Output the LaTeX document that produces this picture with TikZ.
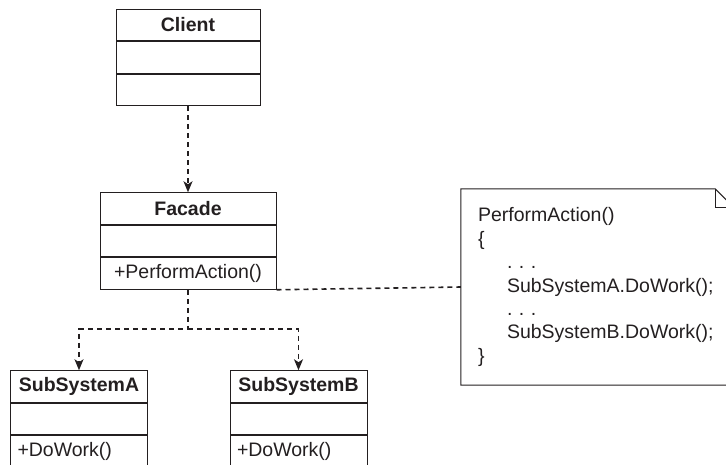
\documentclass[tikz,border=0pt]{standalone}
\usepackage{fontspec}
\setmainfont{Liberation Sans}
\usepackage{tikz}
\usetikzlibrary{positioning,calc,arrows.meta}
\definecolor{ink}{HTML}{231F20}

\tikzset{
  classpart/.style={draw=ink,line width=1pt,minimum height=31.5pt,inner sep=0pt,
    text=ink,font=\fontsize{19.5}{23}\selectfont},
  classname/.style={classpart,font=\fontsize{19.5}{23}\selectfont\bfseries},
  depline/.style={draw=ink,line width=1.6pt,dash pattern=on 5pt off 4pt},
  deparrow/.style={depline,-{Stealth[length=11pt,width=9pt,inset=3pt]}}
}

\begin{document}
\begin{tikzpicture}[x=1pt,y=-1pt]
  \useasboundingbox (0,0) rectangle (726,464);
  % client
  \node[classname,minimum width=144pt] (client) at (188,24.75) {Client};
  \node[classpart,minimum width=144pt,below=0pt of client] (client-attr) {};
  \node[classpart,minimum width=144pt,below=0pt of client-attr] (client-ops) {};
  % facade
  \node[classname,minimum width=176pt] (facade) at (188,208.5) {Facade};
  \node[classpart,minimum width=176pt,below=0pt of facade] (facade-attr) {};
  \node[classpart,minimum width=176pt,below=0pt of facade-attr] (facade-ops) {+PerformAction()};
  % subsystems
  \foreach \n/\x in {A/79,B/298.5}{
    \node[classname,minimum width=137pt] (sub\n) at (\x,386.5) {SubSystem\n};
    \node[classpart,minimum width=137pt,below=0pt of sub\n] (sub\n-attr) {};
    \node[classpart,minimum width=137pt,inner xsep=7pt,text width=123pt,align=left,
      below=0pt of sub\n-attr] (sub\n-ops) {+DoWork()};
  }
  % note
  \node[text=ink,font=\fontsize{19.5}{23.4}\selectfont\frenchspacing,minimum width=273pt,
    minimum height=196pt,inner xsep=17pt,inner ysep=0pt,text width=239pt,align=left]
    (note) at (597.5,287)
    {PerformAction()\\
     \{\\
     \hspace*{29pt}. . .\\
     \hspace*{29pt}SubSystemA.DoWork();\\
     \hspace*{29pt}. . .\\
     \hspace*{29pt}SubSystemB.DoWork();\\
     \}};
  \draw[ink,line width=1pt] (note.north west) -- ([xshift=-19pt]note.north east)
    -- ([yshift=-19pt]note.north east) -- (note.south east) -- (note.south west) -- cycle;
  \draw[ink,line width=1pt] ([xshift=-19pt]note.north east) |- ([yshift=-19pt]note.north east);
  % dependencies
  \coordinate (split) at ($(facade-ops.south)+(0,39.5)$);
  \draw[deparrow] (client-ops.south) -- (facade.north);
  \draw[deparrow] (facade-ops.south) -- (split) -| (subA.north);
  \draw[deparrow] (split) -| (subB.north);
  \draw[depline] (facade-ops.south east) -- (note.west);
\end{tikzpicture}
\end{document}
